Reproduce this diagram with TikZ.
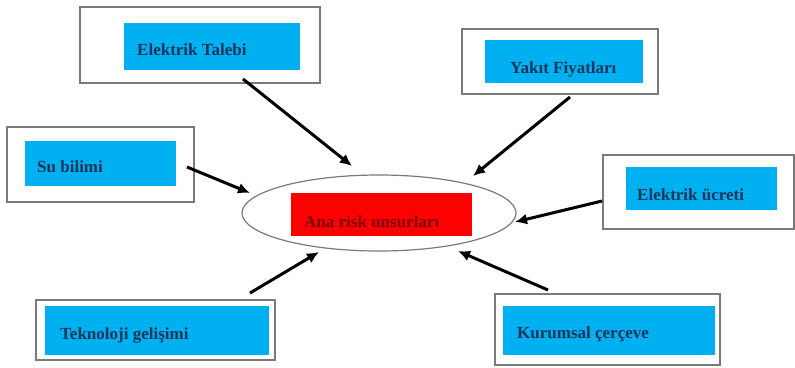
\documentclass[tikz,border=0pt]{standalone}
\usepackage{fontspec}
\setmainfont{Liberation Serif}
\usetikzlibrary{arrows.meta,shapes.geometric}
\definecolor{boxblue}{HTML}{00B0F0}
\definecolor{txtblue}{HTML}{15355A}
\definecolor{txtred}{HTML}{7A0000}
\definecolor{framegray}{HTML}{7A7A7A}
\tikzset{
  frame/.style={draw=framegray, line width=1.3pt, fill=white, rectangle, inner sep=0pt},
  bluebox/.style={fill=boxblue, draw=none, rectangle, inner sep=0pt},
  redbox/.style={fill=red, draw=none, rectangle, inner sep=0pt},
  label/.style={anchor=base west, inner sep=0pt, text=txtblue, font=\fontsize{17}{20}\selectfont\bfseries},
  redlabel/.style={anchor=base west, inner sep=0pt, text=txtred, font=\fontsize{17}{20}\selectfont\bfseries},
  conn/.style={line width=3pt, -{Latex[length=12pt,width=11pt]}}
}
\begin{document}
\begin{tikzpicture}[x=1pt,y=-1pt]
\useasboundingbox (0,0) rectangle (795,367);
\fill[white] (0,0) rectangle (795,367);
% Elektrik Talebi
\node[frame, minimum width=240, minimum height=76] (f1) at (200,45) {};
\node[bluebox, minimum width=176, minimum height=47] (b1) at (212,46.5) {};
\node[label] (t1) at (137,55) {Elektrik Talebi};
% Yakit Fiyatlari
\node[frame, minimum width=196, minimum height=65] (f2) at (560,61.5) {};
\node[bluebox, minimum width=158, minimum height=43] (b2) at (564,61.5) {};
\node[label] (t2) at (510,73) {Yakıt Fiyatları};
% Su bilimi
\node[frame, minimum width=187, minimum height=75] (f3) at (100.5,164.5) {};
\node[bluebox, minimum width=151, minimum height=45] (b3) at (100.5,163.5) {};
\node[label] (t3) at (37,172) {Su bilimi};
% center
\node[ellipse, draw=framegray, line width=1.2pt, minimum width=274, minimum height=76, inner sep=0pt] (e) at (379,213) {};
\node[redbox, minimum width=181, minimum height=43] (r) at (381.5,214.5) {};
\node[redlabel] (tr) at (304,227) {Ana risk unsurları};
% Elektrik ucreti
\node[frame, minimum width=191, minimum height=74] (f5) at (698.5,192) {};
\node[bluebox, minimum width=151, minimum height=43] (b5) at (701.5,188.5) {};
\node[label] (t5) at (637,200) {Elektrik ücreti};
% Teknoloji gelisimi
\node[frame, minimum width=239, minimum height=60] (f6) at (155.5,330) {};
\node[bluebox, minimum width=224, minimum height=49] (b6) at (157,330.5) {};
\node[label] (t6) at (60,339) {Teknoloji gelişimi};
% Kurumsal cerceve
\node[frame, minimum width=225, minimum height=71] (f7) at (607.5,329.5) {};
\node[bluebox, minimum width=212, minimum height=49] (b7) at (609,330.5) {};
\node[label] (t7) at (517,338) {Kurumsal çerçeve};
% arrow endpoints
\coordinate (s1) at (243,79);  \coordinate (e1) at (352,166);
\coordinate (s2) at (570,97);  \coordinate (e2) at (473,176);
\coordinate (s3) at (187,167); \coordinate (e3) at (250,193);
\coordinate (s5) at (602,201); \coordinate (e5) at (515,222);
\coordinate (s6) at (250,293); \coordinate (e6) at (319,252);
\coordinate (s7) at (548,290); \coordinate (e7) at (458,251);
\draw[conn] (s1) -- (e1);
\draw[conn] (s2) -- (e2);
\draw[conn] (s3) -- (e3);
\draw[conn] (s5) -- (e5);
\draw[conn] (s6) -- (e6);
\draw[conn] (s7) -- (e7);
\end{tikzpicture}
\end{document}
